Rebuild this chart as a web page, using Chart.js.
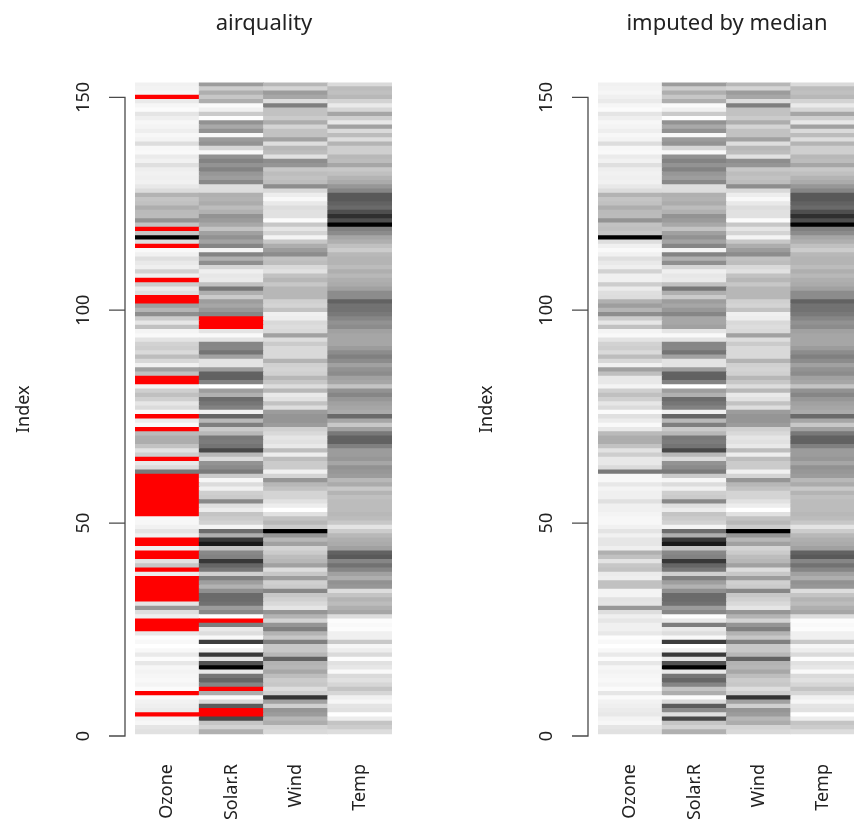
<!DOCTYPE html>
<html>
<head>
<meta charset="utf-8">
<title>airquality matrix plot</title>
<script src="https://cdn.jsdelivr.net/npm/chart.js@4"></script>
<style>
  html, body { margin: 0; padding: 0; background: #fff; overflow: hidden; width: 854px; height: 825px; }
  canvas { position: absolute; top: 0; }
  #left-chart { left: 0; }
  #right-chart { left: 463px; }
</style>
</head>
<body>
<canvas id="left-chart" width="528" height="825"></canvas>
<canvas id="right-chart" width="528" height="825"></canvas>
<script>
const categories = ['Ozone', 'Solar.R', 'Wind', 'Temp'];
const yTicks = [0, 50, 100, 150];

// rows 1..153, null = missing (drawn red)
const ozone = [41,36,12,18,null,28,23,19,8,null,7,16,11,14,18,14,34,6,30,11,1,11,4,32,null,null,null,23,45,115,
  37,null,null,null,null,null,null,29,null,71,39,null,null,23,null,null,21,37,20,12,13,null,null,null,null,null,null,null,null,null,
  null,135,49,32,null,64,40,77,97,97,85,null,10,27,null,7,48,35,61,79,63,16,null,null,80,108,20,52,82,50,
  64,59,39,9,16,78,35,66,122,89,110,null,null,44,28,65,null,22,59,23,31,44,21,9,null,45,168,73,null,76,
  118,84,85,96,78,73,91,47,32,20,23,21,24,44,21,28,9,13,46,18,13,24,16,13,23,36,7,14,30,null,14,18,20];
const solarR = [190,118,149,313,null,null,299,99,19,194,null,256,290,274,65,334,307,78,322,44,8,320,25,92,66,266,null,13,252,223,
  279,286,287,242,186,220,264,127,273,291,323,259,250,148,332,322,191,284,37,120,137,150,59,91,250,135,127,47,98,31,
  138,269,248,236,101,175,314,276,267,272,175,139,264,175,291,48,260,274,285,187,220,7,258,295,294,223,81,82,213,275,
  253,254,83,24,77,null,null,null,255,229,207,222,137,192,273,157,64,71,51,115,244,190,259,36,255,212,238,215,153,203,
  225,237,188,167,197,183,189,95,92,252,220,230,259,236,259,238,24,112,237,224,27,238,201,238,14,139,49,20,193,145,191,131,223];
const wind = [7.4,8,12.6,11.5,14.3,14.9,8.6,13.8,20.1,8.6,6.9,9.7,9.2,10.9,13.2,11.5,12,18.4,11.5,9.7,9.7,16.6,9.7,12,16.6,14.9,8,12,14.9,5.7,
  7.4,8.6,9.7,16.1,9.2,8.6,14.3,9.7,6.9,13.8,11.5,10.9,9.2,8,13.8,11.5,14.9,20.7,9.2,11.5,10.3,6.3,1.7,4.6,6.3,8,8,10.3,11.5,14.9,
  8,4.1,9.2,9.2,10.9,4.6,10.9,5.1,6.3,5.7,7.4,8.6,14.3,14.9,14.9,14.3,6.9,10.3,6.3,5.1,11.5,6.9,9.7,11.5,8.6,8,8.6,12,7.4,7.4,
  7.4,9.2,6.9,13.8,7.4,6.9,7.4,4.6,4,10.3,8,8.6,11.5,11.5,11.5,9.7,11.5,10.3,6.3,7.4,10.9,10.3,15.5,14.3,12.6,9.7,3.4,8,5.7,9.7,
  2.3,6.3,6.3,6.9,5.1,2.8,4.6,7.4,15.5,10.9,10.3,10.9,9.7,14.9,15.5,6.3,10.9,11.5,6.9,13.8,10.3,10.3,8,12.6,9.2,10.3,10.3,16.6,6.9,13.2,14.3,8,11.5];
const temp = [67,72,74,62,56,66,65,59,61,69,74,69,66,68,58,64,66,57,68,62,59,73,61,61,57,58,57,67,81,79,
  76,78,74,67,84,85,79,82,87,90,87,93,92,82,80,79,77,72,65,73,76,77,76,76,76,75,78,73,80,77,
  83,84,85,81,84,83,83,88,92,92,89,82,73,81,91,80,81,82,84,87,85,74,81,82,86,85,82,86,88,86,
  83,81,81,81,82,86,85,87,89,90,90,92,86,86,82,80,79,77,79,76,78,78,77,72,75,79,81,86,88,97,
  94,96,94,91,92,93,93,87,84,80,78,75,73,81,76,77,71,71,78,67,76,68,82,64,71,81,69,63,70,77,75,76,68];

// right panel columns, filled cells estimated from their grey level in the picture
const ozoneImputed = [41,36,12,18,32,28,23,19,8,35,7,16,11,14,18,14,34,6,30,11,1,11,4,32,22,22,35,23,45,115,
  37,40,16,16,78,78,25,29,77,71,39,78,94,23,35,35,21,37,20,12,13,17,22,22,42,22,22,17,32,11,
  11,135,49,32,32,64,40,77,97,97,85,32,10,27,42,7,48,35,61,79,63,16,32,32,80,108,20,52,82,50,
  64,59,39,9,16,78,35,66,122,89,110,94,46,44,28,65,22,22,59,23,31,44,21,9,22,45,168,73,80,76,
  118,84,85,96,78,73,91,47,32,20,23,21,24,44,21,28,9,13,46,18,13,24,16,13,23,36,7,14,30,22,14,18,20];
const solarRImputed = [190,118,149,313,90,246,299,99,19,194,150,256,290,274,65,334,307,78,322,44,8,320,25,92,66,266,68,13,252,223,
  279,286,287,242,186,220,264,127,273,291,323,259,250,148,332,322,191,284,37,120,137,150,59,91,250,135,127,47,98,31,
  138,269,248,236,101,175,314,276,267,272,175,139,264,175,291,48,260,274,285,187,220,7,258,295,294,223,81,82,213,275,
  253,254,83,24,77,215,205,205,255,229,207,222,137,192,273,157,64,71,51,115,244,190,259,36,255,212,238,215,153,203,
  225,237,188,167,197,183,189,95,92,252,220,230,259,236,259,238,24,112,237,224,27,238,201,238,14,139,49,20,193,145,191,131,223];

// ranges of the observed data, used for the grey scale
const columnMin = [1, 7, 1.7, 56];
const columnMax = [168, 334, 20.7, 97];

// high values dark, low values light, gamma corrected like VIM does it
function greyFor(value, col) {
  if (value === null) return '#ff0000';
  const t = (value - columnMin[col]) / (columnMax[col] - columnMin[col]);
  const c = Math.round(Math.pow(1 - t, 1 / 2.2) * 255);
  return `rgb(${c},${c},${c})`;
}

// axis line only runs between first and last tick, like R's axis()
const rAxisPlugin = {
  id: 'rAxis',
  afterDraw: function(chart) {
    const ctx = chart.ctx;
    const scale = chart.scales.y;
    const axisX = scale.right - 10;
    ctx.save();
    ctx.strokeStyle = '#4a4a4a';
    ctx.lineWidth = 1.3;
    ctx.beginPath();
    ctx.moveTo(axisX, scale.getPixelForValue(yTicks[0]));
    ctx.lineTo(axisX, scale.getPixelForValue(yTicks[yTicks.length - 1]));
    yTicks.forEach(t => {
      const py = scale.getPixelForValue(t);
      ctx.moveTo(axisX + 0.6, py);
      ctx.lineTo(axisX - 16, py);
    });
    ctx.stroke();
    ctx.restore();
  }
};

function buildChart(id, title, columns) {
  const datasets = columns[0].map((_, row) => ({
    data: categories.map(() => [row + 0.5, row + 1.5]),
    backgroundColor: columns.map((values, col) => greyFor(values[row], col)),
    inflateAmount: 0.4,
    borderWidth: 0,
    grouped: false,
    barPercentage: 1,
    categoryPercentage: 1
  }));

  return new Chart(document.getElementById(id).getContext('2d'), {
    type: 'bar',
    data: { labels: categories, datasets: datasets },
    plugins: [rAxisPlugin],
    options: {
      responsive: false,
      animation: false,
      devicePixelRatio: 1,
      layout: { padding: 0 },
      plugins: {
        legend: { display: false },
        tooltip: { enabled: false },
        title: {
          display: true,
          text: title,
          color: '#222',
          font: { family: '"Noto Sans"', size: 22, weight: 'normal' },
          padding: { top: 11, bottom: 45 }
        }
      },
      scales: {
        x: {
          type: 'category',
          border: { display: false },
          grid: { display: false },
          ticks: {
            color: '#222',
            font: { family: '"Noto Sans"', size: 18 },
            minRotation: 90,
            maxRotation: 90,
            autoSkip: false,
            padding: 20
          },
          // keep the title centred on the plot: canvas is wider than the plot
          afterFit: s => { s.height = 89; s.paddingLeft = 0; s.paddingRight = 136; }
        },
        y: {
          type: 'linear',
          min: 0,
          max: 153.5,
          border: { display: false },
          grid: { display: false },
          afterBuildTicks: s => { s.ticks = yTicks.map(v => ({ value: v })); },
          ticks: {
            color: '#222',
            font: { family: '"Noto Sans"', size: 18 },
            minRotation: 90,
            maxRotation: 90,
            crossAlign: 'center',
            padding: 28
          },
          title: {
            display: true,
            text: 'Index',
            color: '#222',
            font: { family: '"Noto Sans"', size: 18 },
            padding: { top: 13, bottom: 0 }
          },
          afterFit: s => { s.width = 135; s.paddingTop = 0; s.paddingBottom = 0; }
        }
      }
    }
  });
}

buildChart('left-chart', 'airquality', [ozone, solarR, wind, temp]);
buildChart('right-chart', 'imputed by median', [ozoneImputed, solarRImputed, wind, temp]);
</script>
</body>
</html>
